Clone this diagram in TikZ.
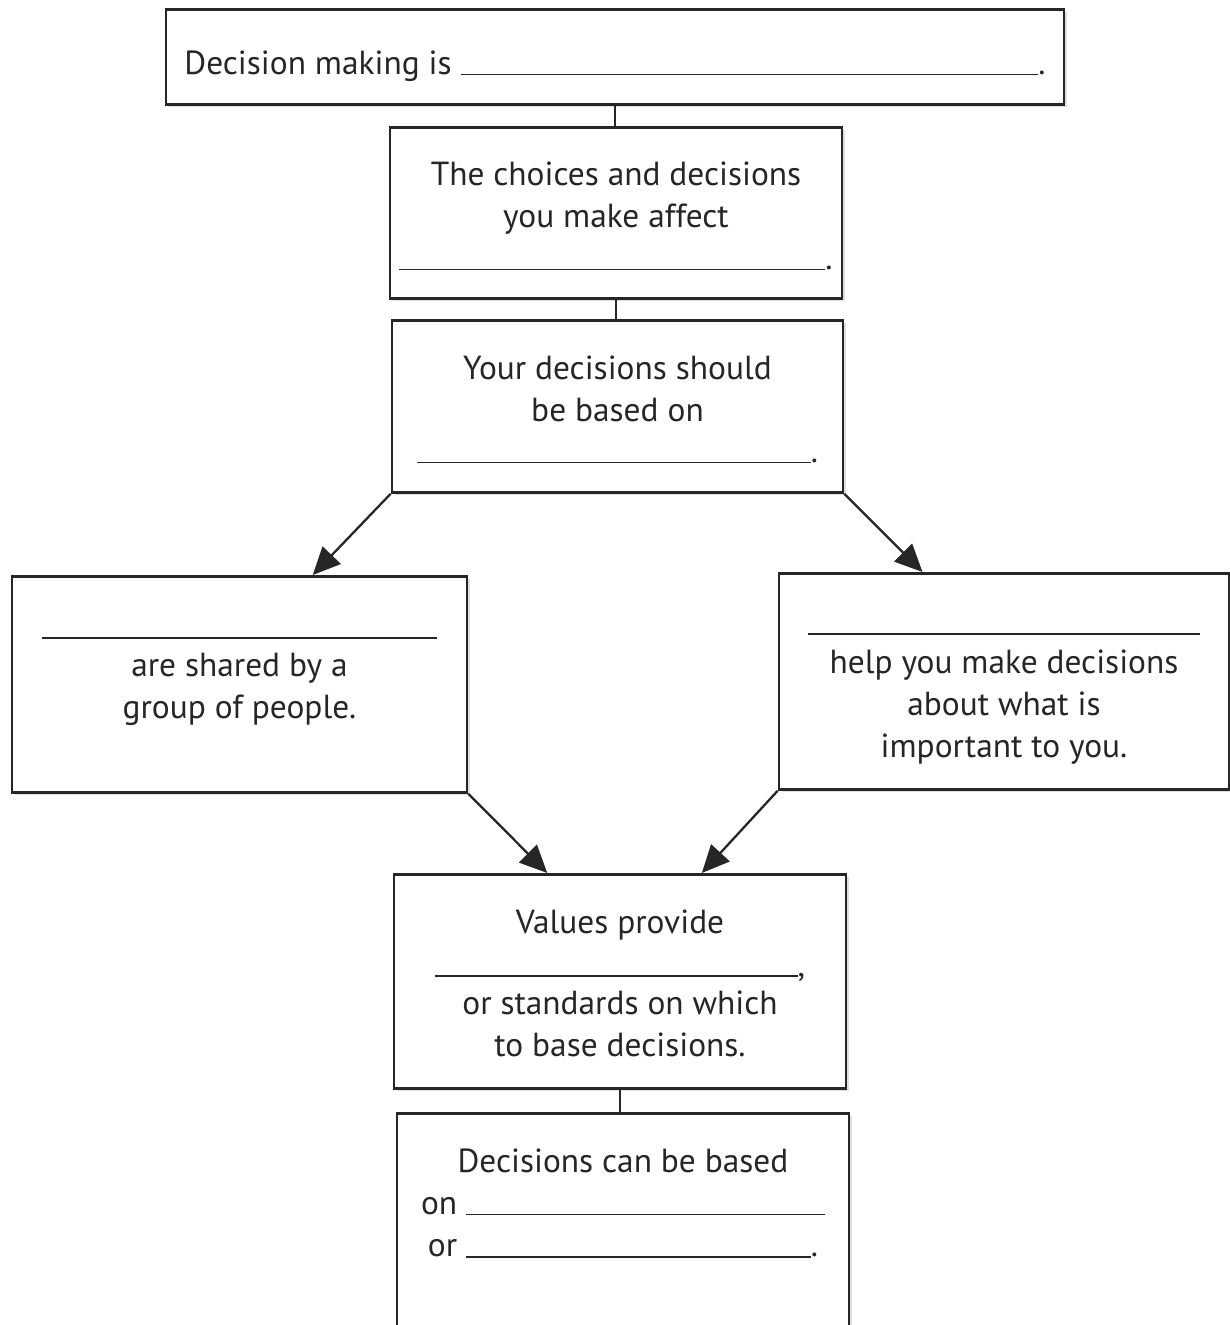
\documentclass[tikz,border=0pt]{standalone}
\usepackage{fontspec}
\setmainfont{PT Sans}
\usetikzlibrary{arrows.meta,calc,shadows}

\newcommand{\blank}[1]{\rule[-0.4pt]{#1}{0.8pt}}

\begin{document}
\begin{tikzpicture}[
    x = 0.02cm, y = -0.02cm,
    box/.style = {rectangle, draw=black!85, line width=1.6pt, fill=white,
                  anchor=north, align=center, inner sep=0pt, text=black!85,
                  font=\fontsize{19}{24}\selectfont,
                  drop shadow={shadow xshift=1.5pt, shadow yshift=-1.5pt, fill=black!25}},
    link/.style = {draw=black!85, line width=1pt},
    arr/.style = {draw=black!85, line width=1.3pt, -{Triangle[length=0.55cm, width=0.5cm]}}
]

\useasboundingbox (0,0) rectangle (1230,1325);

\node[box, minimum width=17.96cm, text height=1.30cm, text depth=0.60cm] (decide) at (615,8)
    {Decision making is \blank{11.56cm}.};
\node[box, minimum width=9.04cm, text height=2.84cm, text depth=0.58cm] (affect) at (616,126)
    {The choices and decisions\\ you make affect\\ \blank{8.52cm}.};
\node[box, minimum width=9.02cm, text height=2.84cm, text depth=0.60cm] (basis) at (617.5,319)
    {Your decisions should\\ be based on\\[-0.02cm] \blank{7.88cm}.};

\node[box, minimum width=9.10cm, text height=2.84cm, text depth=1.48cm] (shared) at (239.5,575)
    {\blank{7.9cm}\\[-0.08cm] are shared by a\\ group of people.};
\node[box, minimum width=9.00cm, text height=3.68cm, text depth=0.64cm] (helpyou) at (1004,572)
    {\blank{7.86cm}\\[-0.06cm] help you make decisions\\ about what is\\ important to you.};

\node[box, minimum width=9.04cm, text height=3.64cm, text depth=0.64cm] (values) at (620,873)
    {Values provide\\ \blank{7.26cm},\\[-0.08cm] or standards on which\\ to base decisions.};
\node[box, minimum width=9.04cm, text height=2.87cm, text depth=2.49cm] (based) at (623,1112)
    {Decisions can be based\\ on \blank{7.18cm}\\ or \blank{6.9cm}.};

\draw[link] (decide.south) -- (decide.south |- affect.north);
\draw[link] (affect.south) -- (affect.south |- basis.north);
\draw[link] (values.south) -- (values.south |- based.north);

\draw[arr] (basis.south west) -- ($(shared.north west)!0.66!(shared.north east)$);
\draw[arr] (basis.south east) -- ($(helpyou.north west)!0.32!(helpyou.north east)$);
\draw[arr] (shared.south east) -- ($(values.north west)!0.34!(values.north east)$);
\draw[arr] (helpyou.south west) -- ($(values.north west)!0.68!(values.north east)$);

\end{tikzpicture}
\end{document}
